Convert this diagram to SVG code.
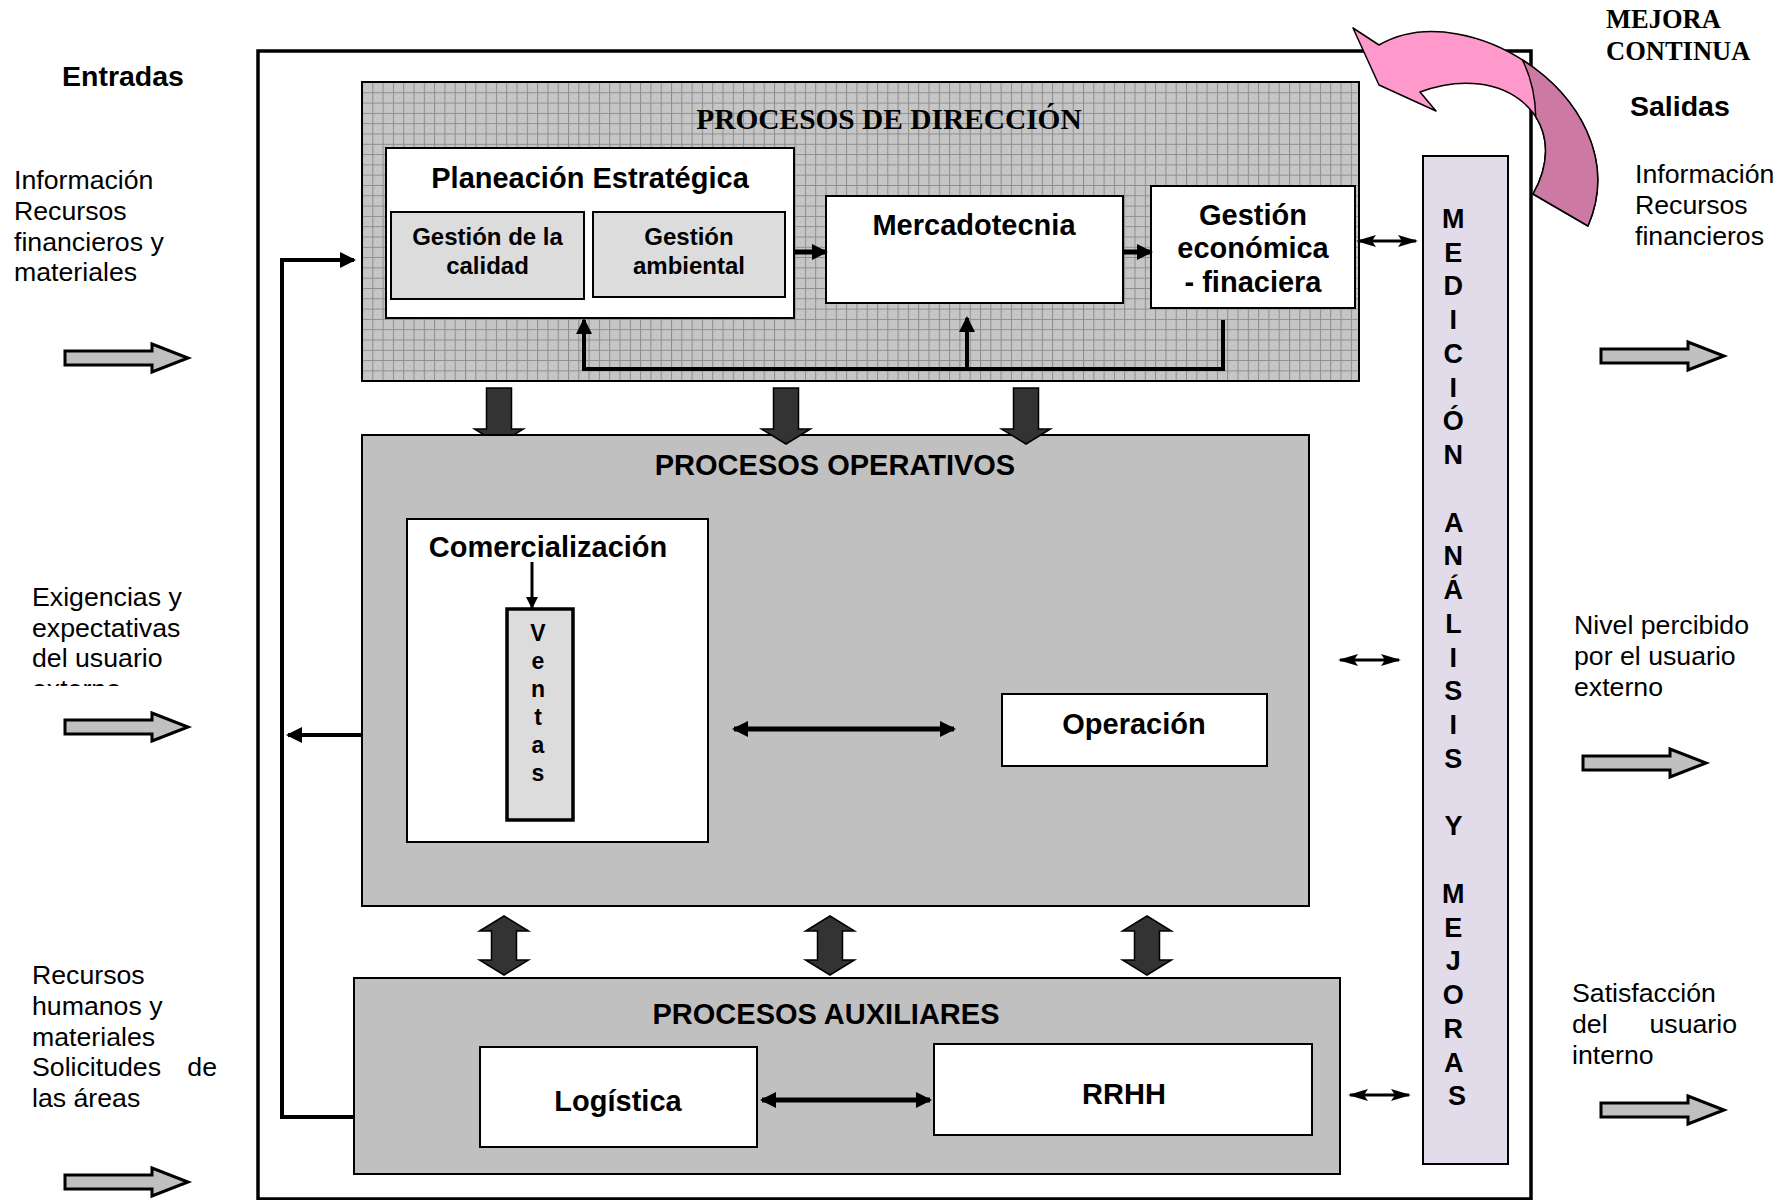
<svg xmlns="http://www.w3.org/2000/svg" width="1791" height="1200" viewBox="0 0 1791 1200">
  <style>
    text { font-family: "Liberation Sans", Arial, sans-serif; fill: #000; }
    .t { font-size: 26.7px; }
    .h { font-size: 28.5px; font-weight: bold; }
    .b29 { font-size: 29px; font-weight: bold; text-anchor: middle; }
    .b24 { font-size: 24px; font-weight: bold; text-anchor: middle; }
    .v { font-size: 23px; font-weight: bold; text-anchor: middle; }
    .m { font-size: 27px; font-weight: bold; text-anchor: middle; }
    .serif { font-family: "Liberation Serif", "Times New Roman", serif; font-weight: bold; }
    .box { fill: #fff; stroke: #000; stroke-width: 2; }
    .sub { fill: #dcdcdc; stroke: #000; stroke-width: 2; }
    .grey { fill: #c0c0c0; stroke: #000; stroke-width: 2; }
    .io { fill: #c0c0c0; stroke: #000; stroke-width: 3; }
    .blk { fill: #333; stroke: #000; stroke-width: 1.5; }
    .ln { fill: none; stroke: #000; stroke-width: 4; }
    .ln5 { fill: none; stroke: #000; stroke-width: 5; }
    .ln3 { fill: none; stroke: #000; stroke-width: 3; }
  </style>
  <defs>
    <pattern id="grid" width="10.3" height="10.3" patternUnits="userSpaceOnUse" x="362" y="82">
      <rect width="10.3" height="10.3" fill="#c6c6c6"/>
      <rect x="2" y="2" width="1" height="1" fill="#b4b4b4"/>
      <rect x="6" y="6" width="1" height="1" fill="#b4b4b4"/>
      <path d="M0,0.5 H10.3 M0.5,0 V10.3" stroke="#8c8c8c" stroke-width="1" fill="none"/>
    </pattern>
    <marker id="ah" viewBox="0 0 16 16" refX="14" refY="8" markerWidth="16" markerHeight="16" markerUnits="userSpaceOnUse" orient="auto-start-reverse">
      <path d="M0,0 L16,8 L0,16 Z" fill="#000"/>
    </marker>
    <marker id="as" viewBox="0 0 20 12" refX="18" refY="6" markerWidth="20" markerHeight="12" markerUnits="userSpaceOnUse" orient="auto-start-reverse">
      <path d="M0,0 L20,6 L0,12 L4,6 Z" fill="#000"/>
    </marker>
    <marker id="at" viewBox="0 0 12 12" refX="11" refY="6" markerWidth="12" markerHeight="12" markerUnits="userSpaceOnUse" orient="auto">
      <path d="M0,0 L12,6 L0,12 Z" fill="#000"/>
    </marker>
    <!-- grey outline arrow used for inputs and outputs -->
    <path id="ioArrow" class="io" d="M0,-7 H87 V-14 L123,0 L87,14 V7 H0 Z"/>
    <!-- dark block arrows between process levels -->
    <path id="down" class="blk" d="M-12.5,0 H12.5 V41 H24.5 L0,56 L-24.5,41 H-12.5 Z"/>
    <path id="updown" class="blk" d="M0,0 L24.5,15 H12.5 V44 H24.5 L0,59 L-24.5,44 H-12.5 V15 H-24.5 Z"/>
  </defs>

  <rect width="1791" height="1200" fill="#fff"/>

  <!-- system boundary -->
  <rect x="258" y="51" width="1273" height="1148" fill="none" stroke="#000" stroke-width="3.5"/>

  <!-- inputs -->
  <g id="entradas">
    <text class="h" x="62" y="86">Entradas</text>
    <text class="t" x="14" y="189">Información</text>
    <text class="t" x="14" y="220">Recursos</text>
    <text class="t" x="14" y="251">financieros y</text>
    <text class="t" x="14" y="281">materiales</text>
    <use href="#ioArrow" x="65" y="358"/>
    <clipPath id="clipExt"><rect x="0" y="560" width="250" height="126"/></clipPath>
    <g clip-path="url(#clipExt)">
      <text class="t" x="32" y="606">Exigencias y</text>
      <text class="t" x="32" y="637">expectativas</text>
      <text class="t" x="32" y="667">del usuario</text>
      <text class="t" x="32" y="698">externo</text>
    </g>
    <use href="#ioArrow" x="65" y="727"/>
    <text class="t" x="32" y="984">Recursos</text>
    <text class="t" x="32" y="1015">humanos y</text>
    <text class="t" x="32" y="1046">materiales</text>
    <text class="t" x="32" y="1076">Solicitudes</text>
    <text class="t" x="217" y="1076" text-anchor="end">de</text>
    <text class="t" x="32" y="1107">las áreas</text>
    <use href="#ioArrow" x="65" y="1182"/>
  </g>

  <!-- outputs -->
  <g id="salidas">
    <text class="serif" x="1606" y="28" font-size="26.5">MEJORA</text>
    <text class="serif" x="1606" y="60" font-size="26.5">CONTINUA</text>
    <text class="h" x="1630" y="116">Salidas</text>
    <text class="t" x="1635" y="183">Información</text>
    <text class="t" x="1635" y="214">Recursos</text>
    <text class="t" x="1635" y="245">financieros</text>
    <use href="#ioArrow" x="1601" y="356"/>
    <text class="t" x="1574" y="634">Nivel percibido</text>
    <text class="t" x="1574" y="665">por el usuario</text>
    <text class="t" x="1574" y="696">externo</text>
    <use href="#ioArrow" x="1583" y="763"/>
    <text class="t" x="1572" y="1002">Satisfacción</text>
    <text class="t" x="1572" y="1033">del</text>
    <text class="t" x="1737" y="1033" text-anchor="end">usuario</text>
    <text class="t" x="1572" y="1064">interno</text>
    <use href="#ioArrow" x="1601" y="1110"/>
  </g>

  <!-- first down arrow sits behind the operational block -->
  <use href="#down" x="499" y="388"/>

  <!-- management processes -->
  <g id="direccion">
    <rect x="362" y="82" width="997" height="299" fill="url(#grid)" stroke="#000" stroke-width="2"/>
    <text class="serif" x="889" y="129" font-size="29.4" text-anchor="middle">PROCESOS DE DIRECCIÓN</text>
  </g>
  <g id="planeacion">
    <rect class="box" x="386" y="148" width="408" height="170"/>
    <text class="b29" x="590" y="188">Planeación Estratégica</text>
  </g>
  <g id="gestion-calidad">
    <rect class="sub" x="391" y="212" width="193" height="87"/>
    <text class="b24" x="487.5" y="245">Gestión de la</text>
    <text class="b24" x="487.5" y="274">calidad</text>
  </g>
  <g id="gestion-ambiental">
    <rect class="sub" x="593" y="212" width="192" height="85"/>
    <text class="b24" x="689" y="245">Gestión</text>
    <text class="b24" x="689" y="274">ambiental</text>
  </g>
  <g id="mercadotecnia">
    <rect class="box" x="826" y="196" width="297" height="107"/>
    <text class="b29" x="974" y="235">Mercadotecnia</text>
  </g>
  <g id="gestion-economica">
    <rect class="box" x="1151" y="186" width="204" height="122"/>
    <text class="b29" x="1253" y="225">Gestión</text>
    <text class="b29" x="1253" y="258">económica</text>
    <text class="b29" x="1253" y="292">- finaciera</text>
  </g>

  <!-- operational processes -->
  <g id="operativos">
    <rect class="grey" x="362" y="435" width="947" height="471"/>
    <text class="b29" x="835" y="475">PROCESOS OPERATIVOS</text>
  </g>
  <g id="comercializacion">
    <rect class="box" x="407" y="519" width="301" height="323"/>
    <text class="b29" x="548" y="557">Comercialización</text>
  </g>
  <g id="ventas">
    <rect x="507" y="609" width="66" height="211" fill="#dcdcdc" stroke="#000" stroke-width="3.5"/>
    <text class="v" x="538" y="641">V</text>
    <text class="v" x="538" y="669">e</text>
    <text class="v" x="538" y="697">n</text>
    <text class="v" x="538" y="725">t</text>
    <text class="v" x="538" y="753">a</text>
    <text class="v" x="538" y="781">s</text>
  </g>
  <g id="operacion">
    <rect class="box" x="1002" y="694" width="265" height="72"/>
    <text class="b29" x="1134" y="734">Operación</text>
  </g>

  <!-- support processes -->
  <g id="auxiliares">
    <rect class="grey" x="354" y="978" width="986" height="196"/>
    <text class="b29" x="826" y="1024">PROCESOS AUXILIARES</text>
  </g>
  <g id="logistica">
    <rect class="box" x="480" y="1047" width="277" height="100"/>
    <text class="b29" x="618" y="1111">Logística</text>
  </g>
  <g id="rrhh">
    <rect class="box" x="934" y="1044" width="378" height="91"/>
    <text class="b29" x="1124" y="1104">RRHH</text>
  </g>

  <!-- measurement, analysis and improvement -->
  <g id="medicion">
    <rect x="1423" y="156" width="85" height="1008" fill="#e2dcea" stroke="#000" stroke-width="2"/>
    <text class="m">
      <tspan x="1457" y="228">M</tspan>
      <tspan x="1457" y="262">E</tspan>
      <tspan x="1457" y="295">D</tspan>
      <tspan x="1457" y="329">I</tspan>
      <tspan x="1457" y="363">C</tspan>
      <tspan x="1457" y="397">I</tspan>
      <tspan x="1457" y="430">Ó</tspan>
      <tspan x="1457" y="464">N</tspan>
      <tspan x="1457" y="532">A</tspan>
      <tspan x="1457" y="565">N</tspan>
      <tspan x="1457" y="599">Á</tspan>
      <tspan x="1457" y="633">L</tspan>
      <tspan x="1457" y="667">I</tspan>
      <tspan x="1457" y="700">S</tspan>
      <tspan x="1457" y="734">I</tspan>
      <tspan x="1457" y="768">S</tspan>
      <tspan x="1457" y="835">Y</tspan>
      <tspan x="1457" y="903">M</tspan>
      <tspan x="1457" y="937">E</tspan>
      <tspan x="1457" y="970">J</tspan>
      <tspan x="1457" y="1004">O</tspan>
      <tspan x="1457" y="1038">R</tspan>
      <tspan x="1457" y="1072">A</tspan>
      <tspan x="1457" y="1105">S</tspan>
    </text>
  </g>

  <!-- connectors -->
  <g id="connectors">
    <use href="#down" x="786" y="388"/>
    <use href="#down" x="1026" y="388"/>
    <use href="#updown" x="504" y="916"/>
    <use href="#updown" x="830" y="916"/>
    <use href="#updown" x="1147" y="916"/>

    <polyline class="ln" points="354,1117 282,1117 282,260 354,260" marker-end="url(#ah)"/>
    <line class="ln" x1="362" y1="735" x2="288" y2="735" marker-end="url(#ah)"/>

    <polyline class="ln" points="1223,320 1223,369 584,369 584,320" marker-end="url(#ah)"/>
    <line class="ln" x1="967" y1="369" x2="967" y2="318" marker-end="url(#ah)"/>
    <line class="ln5" x1="795" y1="252" x2="826" y2="252" marker-end="url(#ah)"/>
    <line class="ln5" x1="1123" y1="252" x2="1151" y2="252" marker-end="url(#ah)"/>

    <line class="ln3" x1="1358" y1="241" x2="1416" y2="241" marker-start="url(#as)" marker-end="url(#as)"/>
    <line class="ln3" x1="1340" y1="660" x2="1399" y2="660" marker-start="url(#as)" marker-end="url(#as)"/>
    <line class="ln3" x1="1350" y1="1095" x2="1409" y2="1095" marker-start="url(#as)" marker-end="url(#as)"/>

    <line class="ln5" x1="734" y1="729" x2="954" y2="729" marker-start="url(#ah)" marker-end="url(#ah)"/>
    <line class="ln5" x1="762" y1="1100" x2="930" y2="1100" marker-start="url(#ah)" marker-end="url(#ah)"/>

    <line class="ln3" x1="532" y1="562" x2="532" y2="608" marker-end="url(#at)"/>
  </g>

  <!-- continual improvement curved arrow: front face and shaded back face -->
  <g id="mejora-continua">
    <path d="M1353,28 L1379,45 C1470,-8 1640,105 1588,226 L1533,194 C1575,120 1505,60 1420,92 L1436,111 L1379,85 Z" fill="#ff99cc" stroke="#000" stroke-width="1.5" stroke-linejoin="round"/>
    <path d="M1522.4,59.9 C1578,95.3 1616.6,159.45 1588,226 L1533,194 C1549.8,164.4 1548.7,137 1535.8,116.9 Q1535,85 1522.4,59.9 Z" fill="#cc7aa3" stroke="#000" stroke-width="1.5" stroke-linejoin="round"/>
  </g>
</svg>
